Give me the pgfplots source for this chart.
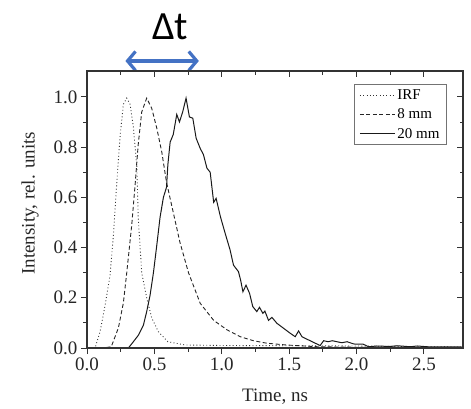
\documentclass[border=0pt]{standalone}
\usepackage{fontspec}
\setmainfont{Liberation Serif}
\newfontfamily\carlito{Carlito}
\usepackage{pgfplots}
\pgfplotsset{compat=1.18}
\usetikzlibrary{arrows.meta}
\definecolor{arrowblue}{RGB}{68,114,196}
\begin{document}
\begin{tikzpicture}
\pgfplotsset{
  common/.style={
    scale only axis, width=376pt, height=277pt,
    xmin=0, xmax=2.79, ymin=0, ymax=1.103,
    xtick={0,0.5,...,2.5}, minor x tick num=1,
    ytick={0,0.2,...,1.0}, minor y tick num=1,
    axis line style={line width=1.1pt, black!80},
    major tick length=6pt, minor tick length=3.5pt,
    every tick/.style={line width=0.9pt, black!80},
  }
}
\begin{axis}[common,
  tick align=outside, xtick pos=left, ytick pos=left,
  /pgf/number format/assume math mode=true,
  /pgf/number format/.cd, fixed, fixed zerofill, precision=1, /pgfplots/.cd,
  tick label style={font=\fontsize{19}{19}\selectfont, black!85},
  xlabel={Time, ns}, ylabel={Intensity, rel. units},
  label style={font=\fontsize{19}{19}\selectfont, black!85},
  x label style={at={(axis description cs:0.5,-0.1769)}, anchor=center},
  y label style={at={(axis description cs:-0.1516,0.523)}, anchor=center},
  clip=false,
  legend style={at={(axis description cs:0.957,0.953)}, anchor=north east,
    draw=black!55, line width=0.6pt, font=\fontsize{15}{15}\selectfont,
    inner xsep=5pt, inner ysep=3pt, row sep=4pt},
  legend cell align=left,
  legend image code/.code={\draw[#1] (0pt,0pt) -- (35pt,0pt);},
]
\addplot[black!80, line width=0.9pt, dash pattern=on 0.9pt off 2.4pt] coordinates {
(0,0) (0.06,0) (0.097,0.065) (0.134,0.17) (0.171,0.29) (0.196,0.45) (0.22,0.65)
(0.245,0.84) (0.27,0.97) (0.295,0.995) (0.32,0.97) (0.344,0.88) (0.37,0.72)
(0.38,0.52) (0.406,0.30) (0.443,0.20) (0.48,0.12) (0.53,0.065) (0.60,0.025)
(0.73,0.012) (1.0,0.01) (1.5,0.009) (2.0,0.008) (2.5,0.005) (2.78,0.004)
};
\addlegendentry{IRF}
\addplot[black!85, line width=0.9pt, dash pattern=on 4pt off 2.5pt] coordinates {
(0,0) (0.12,0) (0.18,0.005) (0.233,0.08) (0.27,0.18) (0.295,0.30) (0.332,0.49)
(0.357,0.65) (0.38,0.81) (0.406,0.94) (0.443,0.995) (0.48,0.955) (0.518,0.875)
(0.555,0.78) (0.59,0.66) (0.64,0.54) (0.69,0.42) (0.753,0.30) (0.84,0.178)
(0.94,0.11) (1.04,0.072) (1.137,0.045) (1.235,0.029) (1.335,0.019) (1.48,0.012)
(1.71,0.005) (2.0,0.003) (2.5,0.002) (2.78,0.001)
};
\addlegendentry{8 mm}
\addplot[black!90, line width=1pt] coordinates {
(0,0) (0.307,0) (0.344,0.025) (0.38,0.05) (0.418,0.09) (0.443,0.145) (0.468,0.21)
(0.493,0.30) (0.518,0.41) (0.542,0.52) (0.567,0.60) (0.59,0.64) (0.60,0.73)
(0.617,0.82) (0.64,0.85) (0.666,0.93) (0.686,0.90) (0.71,0.94) (0.735,0.995)
(0.76,0.92) (0.785,0.915) (0.81,0.835) (0.84,0.795) (0.864,0.77) (0.89,0.716)
(0.914,0.70) (0.94,0.58) (0.958,0.596) (0.99,0.523) (1.025,0.457) (1.062,0.39)
(1.087,0.33) (1.124,0.304) (1.14,0.27) (1.157,0.224) (1.18,0.25) (1.206,0.218)
(1.23,0.165) (1.26,0.145) (1.28,0.162) (1.305,0.138) (1.32,0.147) (1.347,0.11)
(1.372,0.122) (1.41,0.098) (1.46,0.078) (1.51,0.058) (1.545,0.045) (1.57,0.068)
(1.595,0.045) (1.644,0.032) (1.694,0.019) (1.73,0.01) (1.756,0.029) (1.79,0.025)
(1.82,0.029) (1.855,0.025) (1.89,0.021) (1.93,0.025) (1.98,0.016) (2.05,0.015)
(2.09,0.005) (2.15,0.008) (2.25,0.006) (2.3,0.009) (2.4,0.005) (2.45,0.008)
(2.55,0.004) (2.65,0.005) (2.78,0.004)
};
\addlegendentry{20 mm}
\draw[arrowblue, line width=3.2pt, {Straight Barb[length=8pt,width=19pt]}-{Straight Barb[length=8pt,width=19pt]}]
  (axis cs:0.285,1.143) -- (axis cs:0.83,1.143);
\node[font=\carlito\fontsize{40}{40}\selectfont, anchor=center] at (axis cs:0.617,1.28) {Δt};
\end{axis}
\begin{axis}[common,
  tick align=inside, xtick pos=right, ytick pos=right,
  xticklabels={}, yticklabels={},
]
\end{axis}
\pgfresetboundingbox
\path[use as bounding box] (-87pt,-60pt) rectangle (384pt,348pt);
\end{tikzpicture}
\end{document}
